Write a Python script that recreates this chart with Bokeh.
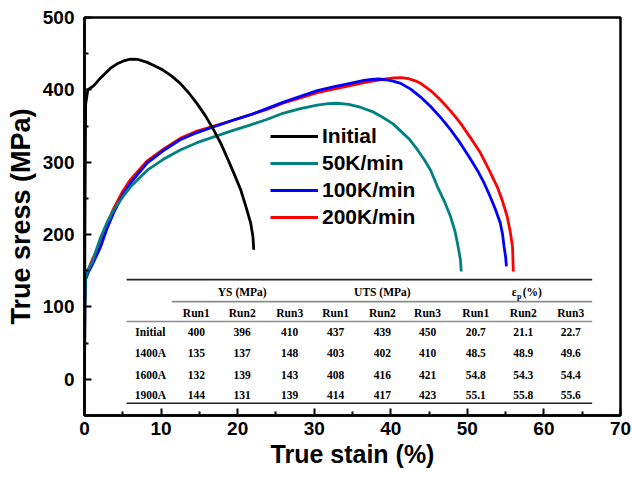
from bokeh.plotting import figure
from bokeh.models import Range1d, FixedTicker, Legend, LegendItem
from bokeh.core.properties import value
from bokeh.embed import file_html
from bokeh.resources import INLINE

# ---- curve data (true strain %, true stress MPa) ----
initial_x = [0, 0.05, 0.15, 0.43, 0.78, 1.22, 1.65, 2.09, 2.74, 3.4, 4.27, 5.1, 6.0, 7.0, 8.2, 9.2, 10.3,
             11.4, 12.5, 13.6, 14.7, 15.8, 16.9, 17.8, 18.6, 19.5, 20.4, 21.1, 21.7, 22.0, 22.1]
initial_y = [0, 200, 380, 400, 402.6, 406, 411, 416.4, 423, 430, 436, 440, 442.5, 442, 438, 433, 427,
             419, 409, 396, 381, 364, 344, 326, 307, 285, 262, 238, 216, 197, 179]

k50_x = [0, 0.05, 0.15, 0.5, 1.0, 2.1, 3.0, 3.8, 5.0, 6.0, 8.2, 10.3, 12.5, 14.7, 16.9, 19.1, 21.5, 23.8,
         26.0, 28.2, 30.4, 31.8, 33.0, 34.5, 36.0, 37.6, 39.1, 40.3, 41.3, 42.5, 43.5, 44.4, 45.2, 46.1,
         47.0, 47.8, 48.4, 48.8, 49.1, 49.2]
k50_y = [0, 100, 142, 152, 162, 196, 218, 234, 252, 266, 289, 304, 317, 327, 335, 343, 351, 359,
         368, 374, 379, 381, 381.5, 380, 376, 370, 361, 353, 343, 331, 317, 303, 289, 266,
         246, 225, 204, 183, 165, 149]

k100_x = [0, 0.05, 0.15, 0.5, 1.0, 2.1, 3.0, 3.8, 5.0, 6.0, 8.2, 10.3, 12.5, 14.7, 16.9, 19.1, 21.5, 23.8,
          26.0, 28.2, 30.4, 32.5, 34.7, 36.5, 37.5, 38.4, 39.3, 40.3, 41.3, 42.6, 43.9, 45.2, 46.5, 47.8,
          49.1, 50.2, 51.3, 52.2, 53.0, 53.7, 54.3, 54.6, 54.8, 55.0, 55.1]
k100_y = [0, 100, 138, 148, 158, 183, 210, 230, 255, 271, 299, 316, 331, 341, 349, 357, 365, 374,
          383, 391, 399, 404, 409, 413, 414.5, 415, 414, 412, 409, 401, 390, 377, 362, 345,
          326, 308, 289, 271, 252, 234, 216, 200, 183, 169, 156]

k200_x = [0, 0.05, 0.15, 0.5, 1.0, 2.1, 3.0, 3.8, 5.0, 6.0, 8.2, 10.3, 12.5, 14.7, 16.9, 19.1, 21.5, 23.8,
          26.0, 28.2, 30.4, 32.5, 34.7, 36.5, 38.2, 39.6, 40.5, 41.4, 42.3, 43.2, 43.9, 45.2, 46.5, 47.8,
          49.1, 50.4, 51.7, 52.8, 53.9, 54.6, 55.2, 55.6, 55.9, 56.0]
k200_y = [0, 100, 142, 152, 165, 190, 216, 236, 260, 276, 302, 318, 333, 343, 350, 357, 365, 373,
          382, 389, 396, 401, 406, 410, 413, 415.5, 416.6, 416.8, 415.5, 412.5, 409, 399, 386, 371,
          354, 334, 313, 290, 266, 246, 225, 204, 183, 149]

series_labels = ["Initial", "50K/min", "100K/min", "200K/min"]

# ---- table data ----
row_labels = ["Initial", "1400A", "1600A", "1900A"]
group_labels = ["YS (MPa)", "UTS (MPa)", "ep"]
run_labels = ["Run1", "Run2", "Run3"]
ys_vals = [[400, 396, 410], [135, 137, 148], [132, 139, 143], [144, 131, 139]]
uts_vals = [[437, 439, 450], [403, 402, 410], [408, 416, 421], [414, 417, 423]]
ep_vals = [[20.7, 21.1, 22.7], [48.5, 48.9, 49.6], [54.8, 54.3, 54.4], [55.1, 55.8, 55.6]]

x_ticks = [0, 10, 20, 30, 40, 50, 60, 70]
y_ticks = [0, 100, 200, 300, 400, 500]

SERIF = value("Liberation Serif")

p = figure(width=632, height=477, output_backend="svg", toolbar_location=None,
           x_range=Range1d(0, 70), y_range=Range1d(-50, 500),
           min_border_left=84, min_border_right=12, min_border_top=17, min_border_bottom=62)
p.grid.visible = False
p.outline_line_color = "black"
p.outline_line_width = 2.5
p.background_fill_color = "white"
p.border_fill_color = "white"

for ax, ticks, minor in ((p.xaxis[0], x_ticks, [5, 15, 25, 35, 45, 55, 65]),
                         (p.yaxis[0], y_ticks, [50, 150, 250, 350, 450])):
    ax.ticker = FixedTicker(ticks=ticks, minor_ticks=minor)
    ax.axis_line_width = 2.5
    ax.axis_line_color = "black"
    ax.major_tick_in = 7
    ax.major_tick_out = 0
    ax.minor_tick_in = 4
    ax.minor_tick_out = 0
    ax.major_tick_line_width = 2
    ax.minor_tick_line_width = 2
    ax.major_label_text_font = "Liberation Sans"
    ax.major_label_text_font_style = "bold"
    ax.major_label_text_font_size = "19px"
    ax.major_label_text_color = "black"
    ax.axis_label_text_font = "Liberation Sans"
    ax.axis_label_text_font_style = "bold"
    ax.axis_label_text_color = "black"

p.xaxis.axis_label = "True stain (%)"
p.yaxis.axis_label = "True sress (MPa)"
p.xaxis.axis_label_text_font_size = "25px"
p.yaxis.axis_label_text_font_size = "27px"
p.xaxis.major_label_standoff = 6
p.yaxis.major_label_standoff = 10
p.xaxis.axis_label_standoff = 2
p.yaxis.axis_label_standoff = 4

# ---- curves ----
lw = 2.8
r200 = p.line(k200_x, k200_y, line_color="#ff0000", line_width=lw, line_join="round")
r100 = p.line(k100_x, k100_y, line_color="#0000ff", line_width=lw, line_join="round")
r50 = p.line(k50_x, k50_y, line_color="#008080", line_width=lw, line_join="round")
r0 = p.line(initial_x, initial_y, line_color="black", line_width=lw, line_join="round")

legend = Legend(items=[LegendItem(label=series_labels[0], renderers=[r0]),
                       LegendItem(label=series_labels[1], renderers=[r50]),
                       LegendItem(label=series_labels[2], renderers=[r100]),
                       LegendItem(label=series_labels[3], renderers=[r200])],
                location=(186, 186), border_line_color=None, background_fill_alpha=0,
                padding=0, margin=0, spacing=3, glyph_width=48, glyph_height=20,
                label_height=20, label_standoff=4,
                label_text_font="Liberation Sans", label_text_font_style="bold",
                label_text_font_size="21px", label_text_color="black")
p.add_layout(legend)

# ---- table (annotation inside plot) ----
tx0, tx1 = 5.5, 66.3
col_x = [14.6, 20.6, 26.8, 32.8, 38.9, 44.8, 51.1, 57.3, 63.5]
row_label_x = 8.6
y_top, y_grp, y_grpline, y_run, y_runline, y_bot = 137.7, 120, 107.4, 92.3, 80, -33
row_y = [64.7, 35.8, 5.5, -22]

p.segment(x0=[tx0, tx0], y0=[y_top, y_bot], x1=[tx1, tx1], y1=[y_top, y_bot],
          line_color="#222222", line_width=1.6)
p.segment(x0=[col_x[0] - 3.2, tx0], y0=[y_grpline, y_runline], x1=[tx1, tx1], y1=[y_grpline, y_runline],
          line_color="#8c8c8c", line_width=1.6)

tkw = dict(text_font=SERIF, text_font_style="bold", text_font_size="11.5px",
           text_align="center", text_baseline="middle", text_color="black")

# group headers
p.text(x=[col_x[1], col_x[4]], y=[y_grp, y_grp], text=group_labels[:2], **tkw)
ep_cx = col_x[7]
p.text(x=[ep_cx], y=[y_grp], text=["ε"], x_offset=[-9], **tkw)
p.text(x=[ep_cx], y=[y_grp], text=["p"], x_offset=[-4], y_offset=[4],
       **{**tkw, "text_font_size": "8px"})
p.text(x=[ep_cx], y=[y_grp], text=["(%)"], x_offset=[9], **tkw)

# run headers
p.text(x=col_x, y=[y_run] * 9, text=run_labels * 3, **tkw)

# rows
xs, ys_, ts = [], [], []
for i, lab in enumerate(row_labels):
    xs.append(row_label_x); ys_.append(row_y[i]); ts.append(lab)
    vals = [str(v) for v in ys_vals[i]] + [str(v) for v in uts_vals[i]] + [f"{v:.1f}" for v in ep_vals[i]]
    for j, v in enumerate(vals):
        xs.append(col_x[j]); ys_.append(row_y[i]); ts.append(v)
p.text(x=xs, y=ys_, text=ts, **tkw)

open("out.html", "w").write(file_html(p, INLINE))
